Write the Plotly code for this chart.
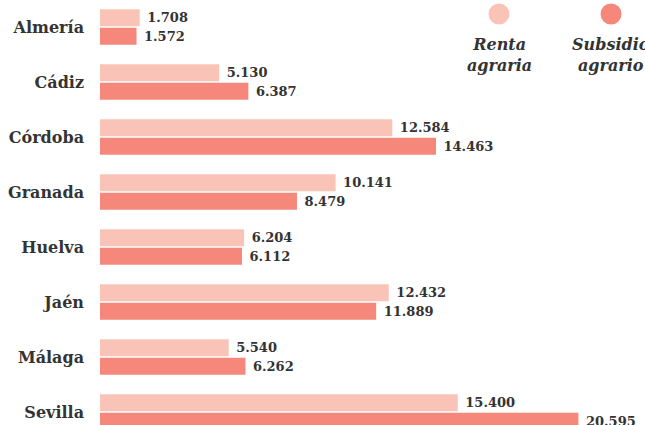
import plotly.graph_objects as go

provincias = ["Almería", "Cádiz", "Córdoba", "Granada", "Huelva", "Jaén", "Málaga", "Sevilla"]
renta_agraria = [1708, 5130, 12584, 10141, 6204, 12432, 5540, 15400]
subsidio_agrario = [1572, 6387, 14463, 8479, 6112, 11889, 6262, 20595]
series_names = ["Renta agraria", "Subsidio agrario"]
colors = ["#F9C4B7", "#F5887B"]

FONT = "DejaVu Serif"
TXT = "#333333"

fig = go.Figure()
for name, vals, col in zip(series_names, [renta_agraria, subsidio_agrario], colors):
    fig.add_trace(go.Bar(
        y=provincias, x=vals, orientation="h", name=name,
        marker=dict(color=col, line=dict(width=0)),
        texttemplate=" %{x:,}", textposition="outside",
        textfont=dict(family=FONT, size=13, color=TXT, weight="bold"),
        constraintext="none", cliponaxis=False,
    ))

W, H, L = 645, 425, 100
pw = W - L

def px_x(x):
    return (x - L) / pw

def px_y(y):
    return 1 - y / H

shapes = []
annotations = []
for cx, col, label in [(499, colors[0], "Renta<br>agraria"), (611, colors[1], "Subsidio<br>agrario")]:
    shapes.append(dict(type="circle", xref="paper", yref="paper",
                       xsizemode="pixel", ysizemode="pixel",
                       xanchor=px_x(cx), yanchor=px_y(14),
                       x0=-10.5, x1=10.5, y0=-10.5, y1=10.5,
                       fillcolor=col, line=dict(width=0)))
    annotations.append(dict(xref="paper", yref="paper", x=px_x(cx), y=px_y(55),
                            text=label, showarrow=False, xanchor="center", yanchor="middle",
                            align="center",
                            font=dict(family=FONT, size=16, color=TXT, style="italic", weight="bold")))

fig.update_layout(
    width=W, height=H,
    margin=dict(l=L, r=0, t=0, b=0, pad=0, autoexpand=False),
    paper_bgcolor="white", plot_bgcolor="white",
    barmode="group", bargap=0.33, bargroupgap=0.08,
    separators=",.",
    showlegend=False,
    shapes=shapes, annotations=annotations,
    xaxis=dict(range=[0, 23460], visible=False, showgrid=False, zeroline=False, automargin=False),
    yaxis=dict(type="category", categoryorder="array", categoryarray=provincias,
               range=[7.236, -0.491], showgrid=False, zeroline=False, showline=False,
               ticks="", ticklabelstandoff=15, automargin=False,
               tickfont=dict(family=FONT, size=16, color=TXT, weight="bold")),
)

fig.write_html("out.html",
               config={"displayModeBar": False},
               post_script="document.body.style.margin='0px';document.body.style.overflow='hidden';")
